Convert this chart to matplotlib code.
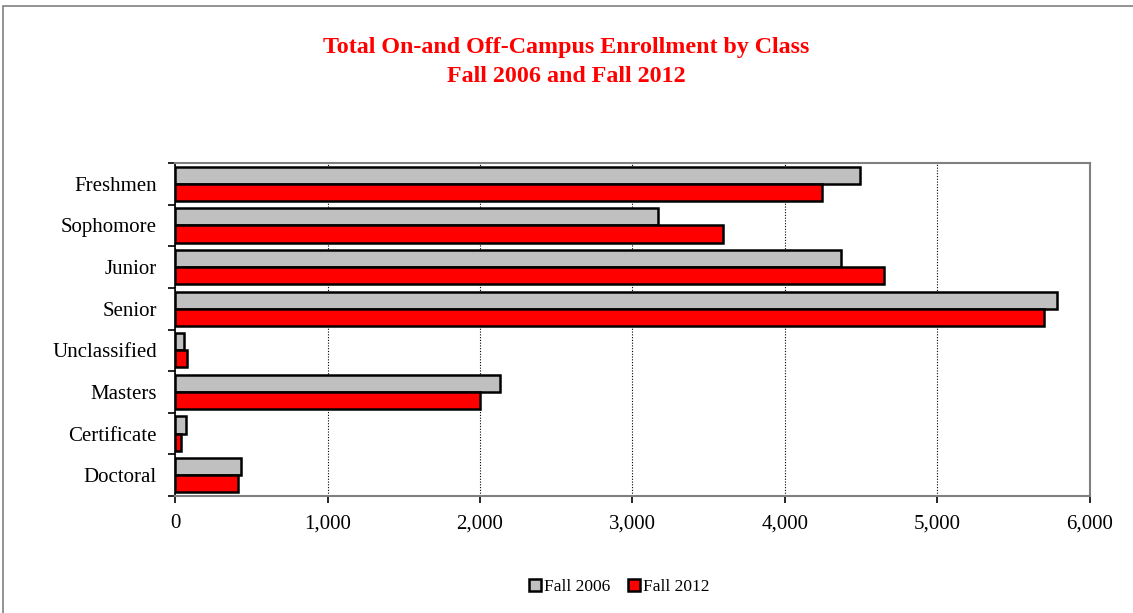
import numpy as np
import matplotlib.pyplot as plt
from matplotlib.patches import Rectangle
from matplotlib.ticker import FuncFormatter, FixedLocator

plt.rcParams['font.family'] = ['Liberation Serif', 'DejaVu Serif']

classes = ['Freshmen', 'Sophomore', 'Junior', 'Senior', 'Unclassified',
           'Masters', 'Certificate', 'Doctoral']
fall_2006 = [4490, 3170, 4370, 5785, 58, 2128, 73, 434]
fall_2012 = [4240, 3592, 4646, 5697, 77, 2003, 38, 410]

fig = plt.figure(figsize=(11.33, 6.13), dpi=100)
# outer chart frame
fig.patches.append(Rectangle((0.003, -0.01), 1.2, 1.0, transform=fig.transFigure,
                             fill=False, edgecolor='#808080', linewidth=1.2))

ax = fig.add_axes([175 / 1133, 1 - 496 / 613, 915 / 1133, 333 / 613])

y = np.arange(len(classes))
h = 0.41
ax.barh(y - h / 2, fall_2006, height=h, color='#c0c0c0', edgecolor='black',
        linewidth=1.8, label='Fall 2006', zorder=3)
ax.barh(y + h / 2, fall_2012, height=h, color='#ff0000', edgecolor='black',
        linewidth=1.8, label='Fall 2012', zorder=3)

ax.set_ylim(len(classes) - 0.5, -0.5)
ax.set_xlim(0, 6000)
ax.set_yticks(y)
ax.set_yticklabels(classes, fontsize=15)
ax.tick_params(axis='y', which='major', length=0, pad=13)
ax.yaxis.set_minor_locator(FixedLocator(np.arange(-0.5, len(classes), 1)))
ax.tick_params(axis='y', which='minor', length=5, width=1.2, direction='out')

ax.set_xticks(np.arange(0, 6001, 1000))
ax.xaxis.set_major_formatter(FuncFormatter(lambda v, p: f'{int(v):,}'))
ax.tick_params(axis='x', labelsize=15, length=5, width=1.2, direction='out', pad=8)

ax.grid(axis='x', color='black', linestyle=(0, (1, 1.5)), linewidth=0.8, zorder=0)
ax.spines['left'].set_color('black')
ax.spines['left'].set_linewidth(1.2)
for side in ['bottom', 'top', 'right']:
    ax.spines[side].set_color('#808080')
    ax.spines[side].set_linewidth(1.5)

fig.text(0.5, 1 - 48 / 613, 'Total On-and Off-Campus Enrollment by Class',
         ha='center', va='center', color='#ff0000', fontsize=17.3, fontweight='bold')
fig.text(0.5, 1 - 76 / 613, 'Fall 2006 and Fall 2012',
         ha='center', va='center', color='#ff0000', fontsize=17.3, fontweight='bold')

handles = [plt.Line2D([], [], marker='s', linestyle='none', markersize=9,
                      markerfacecolor=c, markeredgecolor='black', markeredgewidth=1.8)
           for c in ['#c0c0c0', '#ff0000']]
fig.legend(handles, ['Fall 2006', 'Fall 2012'], loc='center',
           bbox_to_anchor=(618 / 1133, 1 - 587 / 613), ncol=2, frameon=False,
           fontsize=12.5, handletextpad=0.0, columnspacing=0.9, handlelength=1.0)

fig.savefig('out.png', dpi=100)
